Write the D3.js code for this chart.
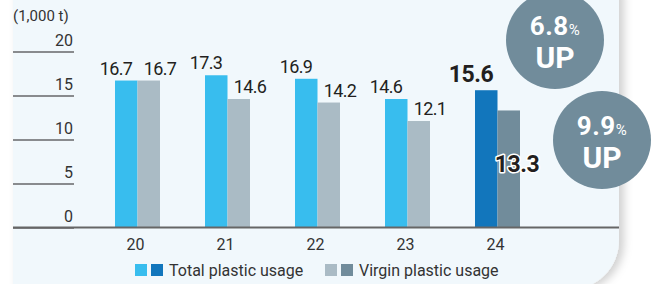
<!DOCTYPE html>
<html>
<head>
<meta charset="utf-8">
<script src="https://cdn.jsdelivr.net/npm/d3@7"></script>
<style>
  html, body { margin: 0; padding: 0; background: #ffffff; }
  svg { display: block; font-family: Roboto, "Noto Sans", sans-serif; }
</style>
</head>
<body>
<svg id="chart" width="657" height="284"></svg>
<script>
const years = ["20", "21", "22", "23", "24"];
const totalUsage = [16.7, 17.3, 16.9, 14.6, 15.6];
const virginUsage = [16.7, 14.6, 14.2, 12.1, 13.3];
const yTicks = [0, 5, 10, 15, 20];
const unitLabel = "(1,000 t)";
const seriesNames = ["Total plastic usage", "Virgin plastic usage"];
const badges = [{pct: "6.8", word: "UP"}, {pct: "9.9", word: "UP"}];

const colors = {
  total: "#38bdee", totalHi: "#1276bc",
  virgin: "#aabbc5", virginHi: "#718c9b",
  badge: "#718c9b", panel: "#f1f8fc", text: "#231f20", axis: "#666666"
};

const svg = d3.select("#chart");
const defs = svg.append("defs");
const f = defs.append("filter").attr("id", "shadow").attr("x", "-10%").attr("y", "-10%").attr("width", "130%").attr("height", "130%");
f.append("feDropShadow").attr("dx", 5).attr("dy", 2).attr("stdDeviation", 4)
  .attr("flood-color", "#000").attr("flood-opacity", 0.18);

// panel with rounded bottom-right corner
const px0 = 13, px1 = 619, py0 = -10, py1 = 290, r = 50;
svg.append("path")
  .attr("d", `M${px0},${py0} H${px1} V${py1 - r} A${r},${r} 0 0 1 ${px1 - r},${py1} H${px0} Z`)
  .attr("fill", colors.panel)
  .attr("filter", "url(#shadow)");

const y = d3.scaleLinear().domain([0, 20]).range([227.5, 51.5]);
const x = d3.scaleBand().domain(years).range([70, 565]).paddingInner(0.5).paddingOuter(0.5);
const xs = d3.scaleBand().domain(["total", "virgin"]).range([0, x.bandwidth()]);

// y gridline ticks (short)
const yAxis = d3.axisLeft(y).tickValues(yTicks).tickSize(61).tickFormat(d3.format("d"));
const yg = svg.append("g").attr("transform", "translate(74,0)").call(yAxis);
yg.select(".domain").remove();
yg.selectAll(".tick line").attr("stroke", "#231f20").attr("stroke-width", 1.2);
yg.selectAll(".tick text")
  .attr("x", -1).attr("dy", "-0.35em")
  .attr("font-size", 16).attr("fill", "#333").attr("font-family", "Roboto");

svg.append("text").attr("x", 13).attr("y", 21)
  .attr("font-size", 15).attr("fill", "#333").text(unitLabel);

// bars
const g = svg.append("g");
years.forEach((yr, i) => {
  const last = i === years.length - 1;
  const x0 = x(yr);
  g.append("rect").attr("x", x0 + xs("total")).attr("y", y(totalUsage[i]))
    .attr("width", xs.bandwidth()).attr("height", y(0) - y(totalUsage[i]))
    .attr("fill", last ? colors.totalHi : colors.total);
  g.append("rect").attr("x", x0 + xs("virgin")).attr("y", y(virginUsage[i]))
    .attr("width", xs.bandwidth()).attr("height", y(0) - y(virginUsage[i]))
    .attr("fill", last ? colors.virginHi : colors.virgin);
});

// x axis
const xAxis = d3.axisBottom(x).tickSize(0).tickPadding(11);
const xg = svg.append("g").attr("transform", `translate(-2,${y(0)})`).call(xAxis);
xg.select(".domain").remove();
xg.selectAll(".tick text").attr("font-size", 16).attr("fill", "#333").attr("font-family", "Roboto");
svg.append("line").attr("x1", px0).attr("x2", px1).attr("y1", y(0)).attr("y2", y(0))
  .attr("stroke", colors.axis).attr("stroke-width", 2);

// value labels
const fmt = d3.format(".1f");
years.forEach((yr, i) => {
  const last = i === years.length - 1;
  const xl = x(yr) + xs("total") + 1;
  const xr = x(yr) + xs("virgin") + xs.bandwidth();
  if (!last) {
    svg.append("text").attr("x", xl).attr("y", y(totalUsage[i]) - 6)
      .attr("text-anchor", "middle").attr("font-size", 18).attr("letter-spacing", -0.6)
      .attr("fill", colors.text).text(fmt(totalUsage[i]));
    svg.append("text").attr("x", xr).attr("y", y(virginUsage[i]) - 6)
      .attr("text-anchor", "middle").attr("font-size", 18).attr("letter-spacing", -0.6)
      .attr("fill", colors.text).text(fmt(virginUsage[i]));
  } else {
    svg.append("text").attr("x", xl - 5).attr("y", y(totalUsage[i]) - 8)
      .attr("text-anchor", "middle").attr("font-size", 23).attr("font-weight", "bold")
      .attr("letter-spacing", -0.5)
      .attr("fill", colors.text).text(fmt(totalUsage[i]));
    svg.append("text").attr("x", xr - 3).attr("y", y(virginUsage[i]) + 62)
      .attr("text-anchor", "middle").attr("font-size", 23).attr("font-weight", "bold")
      .attr("letter-spacing", -0.5)
      .attr("fill", colors.text).attr("stroke", "#ffffff").attr("stroke-width", 3)
      .attr("paint-order", "stroke").attr("stroke-linejoin", "round")
      .text(fmt(virginUsage[i]));
  }
});

// badges
const badgePos = [[555, 40], [602, 140]];
badges.forEach((b, i) => {
  const [cx, cy] = badgePos[i];
  svg.append("circle").attr("cx", cx).attr("cy", cy).attr("r", 49).attr("fill", colors.badge);
  const t = svg.append("text").attr("x", cx).attr("y", cy - 5).attr("text-anchor", "middle")
    .attr("fill", "#fff").attr("font-weight", "bold").attr("letter-spacing", 0.5);
  t.append("tspan").attr("font-size", 26).text(b.pct);
  t.append("tspan").attr("font-size", 15).attr("font-weight", "normal").text("%");
  svg.append("text").attr("x", cx).attr("y", cy + 28).attr("text-anchor", "middle")
    .attr("fill", "#fff").attr("font-weight", "bold").attr("font-size", 30).text(b.word);
});

// legend
const legend = [
  {cols: [colors.total, colors.totalHi], label: seriesNames[0], x: 135},
  {cols: [colors.virgin, colors.virginHi], label: seriesNames[1], x: 325}
];
legend.forEach(l => {
  l.cols.forEach((c, j) => {
    svg.append("rect").attr("x", l.x + j * 16).attr("y", 264).attr("width", 12).attr("height", 12).attr("fill", c);
  });
  svg.append("text").attr("x", l.x + 34).attr("y", 275.5).attr("font-size", 16)
    .attr("fill", "#333").text(l.label);
});
</script>
</body>
</html>
